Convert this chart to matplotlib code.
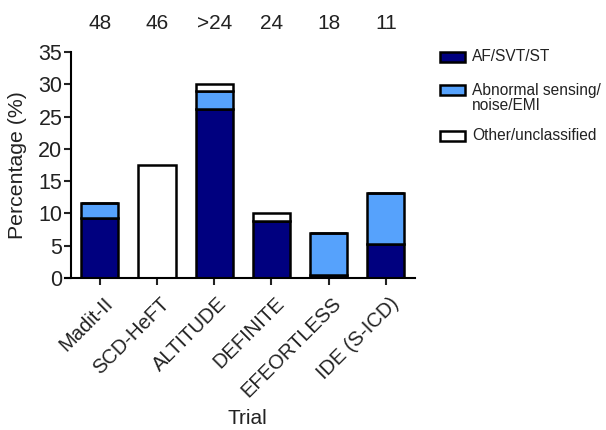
import matplotlib.pyplot as plt
import matplotlib.transforms as mtransforms
from matplotlib.patches import Rectangle
import numpy as np

plt.rcParams['font.family'] = ['Liberation Sans', 'DejaVu Sans']

# Data
trials = ['Madit-II', 'SCD-HeFT', 'ALTITUDE', 'DEFINITE', 'EFEORTLESS', 'IDE (S-ICD)']
n_labels = ['48', '46', '>24', '24', '18', '11']
af_svt_st = [9.3, 0.0, 26.2, 8.9, 0.5, 5.2]
abnormal = [2.3, 0.0, 2.7, 0.0, 6.5, 7.9]
other = [0.0, 17.5, 1.1, 1.1, 0.0, 0.0]
series_names = ['AF/SVT/ST', 'Abnormal sensing/\nnoise/EMI', 'Other/unclassified']

NAVY = '#00007F'
LIGHT = '#56A2FC'
WHITE = '#FFFFFF'
TXT = '#222222'
colors = [NAVY, LIGHT, WHITE]

W, H = 606, 430
fig = plt.figure(figsize=(W / 100, H / 100), dpi=100)
ax = fig.add_axes([65 / W, 1 - 278 / H, 350 / W, 226 / H])

x = np.arange(len(trials))
w = 0.65
lw = 1.8
af = np.array(af_svt_st)
ab = np.array(abnormal)
ot = np.array(other)

ax.bar(x, af, w, color=NAVY, edgecolor='black', linewidth=lw)
ax.bar(x, ab, w, bottom=af, color=LIGHT, edgecolor='black', linewidth=lw)
ax.bar(x, ot, w, bottom=af + ab, color=WHITE, edgecolor='black', linewidth=lw)

ax.set_xlim(-0.61, 5.51)
ax.set_ylim(0, 35)
ax.spines['left'].set_position(('data', -0.51))
ax.spines['top'].set_visible(False)
ax.spines['right'].set_visible(False)
ax.spines['left'].set_linewidth(1.5)
ax.spines['bottom'].set_linewidth(1.5)
ax.set_yticks(range(0, 36, 5))
ax.set_xticks(x)
ax.set_xticklabels(trials, rotation=45, ha='right', va='top', rotation_mode='anchor')
ax.tick_params(axis='both', width=1.5, length=5, colors=TXT)
ax.tick_params(axis='y', labelsize=15.5, pad=1)
ax.tick_params(axis='x', labelsize=14.5, pad=0)

# push the slanted labels down and right like the reference
shift = mtransforms.ScaledTranslation(3 / 100, -9 / 100, fig.dpi_scale_trans)
for lab in ax.get_xticklabels():
    lab.set_transform(lab.get_transform() + shift)

fig.text(18 / W, 1 - 165 / H, 'Percentage (%)', rotation=90, ha='center', va='center',
         fontsize=15.3, color=TXT)
fig.text(247 / W, 1 - 419 / H, 'Trial', ha='center', va='center', fontsize=15, color=TXT)

for xi, lab in zip(x, n_labels):
    ax.text(xi, 1.124, lab, transform=ax.get_xaxis_transform(),
            ha='center', va='center', fontsize=15, color=TXT)

# legend drawn by hand: patch tops align with the first text line
legend_rows = [56.7, 90.0, 136.0]
for name, col, yc in zip(series_names, colors, legend_rows):
    fig.add_artist(Rectangle((440 / W, 1 - (yc + 5) / H), 25 / W, 10 / H,
                             transform=fig.transFigure, facecolor=col,
                             edgecolor='black', linewidth=1.8))
    for i, line in enumerate(name.split('\n')):
        fig.text(472 / W, 1 - (yc + i * 15.7) / H, line, ha='left', va='center',
                 fontsize=11.2, color=TXT)

fig.savefig('out.png', dpi=100)
